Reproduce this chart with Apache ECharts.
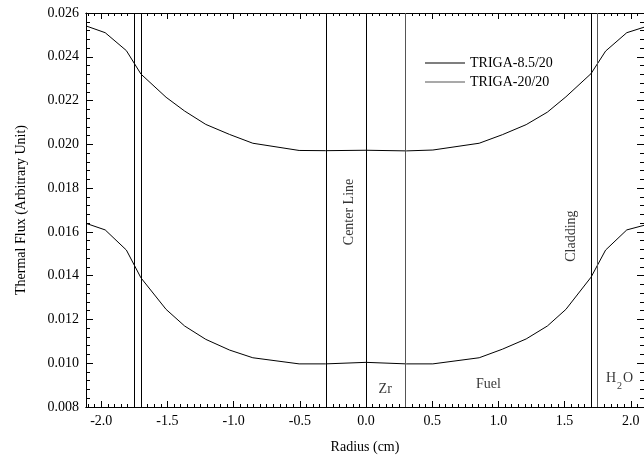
<!DOCTYPE html>
<html>
<head>
<meta charset="utf-8">
<script src="https://cdn.jsdelivr.net/npm/echarts@6/dist/echarts.min.js"></script>
<style>
  html, body { margin: 0; padding: 0; background: #fff; }
  #chart { width: 644px; height: 459px; }
</style>
</head>
<body>
<div id="chart"></div>
<script>
// radius positions of the computed points (cm)
const radius = [-2.115, -1.97, -1.81, -1.70, -1.51, -1.37, -1.21, -1.03, -0.855, -0.505, -0.305, 0,
  0.305, 0.505, 0.855, 1.03, 1.21, 1.37, 1.51, 1.70, 1.81, 1.97, 2.1];
const fluxLow = [0.02541, 0.02510, 0.02428, 0.02321, 0.02215, 0.02152, 0.02091, 0.02045, 0.02005, 0.01972, 0.01971, 0.01973,
  0.01970, 0.01974, 0.02005, 0.02044, 0.02090, 0.02147, 0.02217, 0.02323, 0.02426, 0.02510, 0.02535];
const fluxHigh = [0.01639, 0.01609, 0.01517, 0.01390, 0.01246, 0.01170, 0.01109, 0.01060, 0.01025, 0.00997, 0.00997, 0.01004,
  0.00997, 0.00997, 0.01025, 0.01064, 0.01111, 0.01170, 0.01246, 0.01393, 0.01517, 0.01609, 0.01630];
const seriesNames = ['TRIGA-8.5/20', 'TRIGA-20/20'];

// region boundaries (cm)
const boundaries = [-1.745, -1.695, -0.305, 0, 0.305, 1.695, 1.745];
const greyBoundaries = [0.305, 1.745];

// annotations: text, radius, flux, rotated
const notes = [
  ['Center Line', -0.125, 0.01691, true],
  ['Cladding', 1.548, 0.01581, true],
  ['Zr', 0.145, 0.00882, false],
  ['Fuel', 0.925, 0.00905, false],
  ['H{sub|2}O', 1.915, 0.00933, false]
];

const xMajorTicks = [-2.0, -1.5, -1.0, -0.5, 0.0, 0.5, 1.0, 1.5, 2.0];
const xMinorTicks = [];
for (let i = -42; i <= 42; i++) xMinorTicks.push(i * 0.05);

const font = 'Liberation Serif, Times New Roman, serif';
const X_MIN = -2.115, X_MAX = 2.1;
const GREY = '#555';

const chart = echarts.init(document.getElementById('chart'), null, { renderer: 'canvas' });

function xAxis(position, major, labels) {
  return {
    type: 'value',
    position: position,
    min: X_MIN,
    max: X_MAX,
    axisLine: { show: true, onZero: false, lineStyle: { color: '#000', width: 1 } },
    axisTick: {
      show: true,
      inside: true,
      length: major ? 6 : 3,
      customValues: major ? xMajorTicks : xMinorTicks,
      lineStyle: { color: '#000', width: 1 }
    },
    axisLabel: {
      show: labels,
      customValues: xMajorTicks,
      margin: 7,
      color: '#000',
      fontFamily: font,
      fontSize: 14,
      formatter: v => v.toFixed(1)
    },
    splitLine: { show: false }
  };
}

function yAxis(position, labels) {
  return {
    type: 'value',
    position: position,
    min: 0.008,
    max: 0.026,
    interval: 0.002,
    name: labels ? 'Thermal Flux (Arbitrary Unit)' : '',
    nameLocation: 'middle',
    nameGap: 58,
    nameTextStyle: { color: '#000', fontFamily: font, fontSize: 14 },
    axisLine: { show: true, onZero: false, lineStyle: { color: '#000', width: 1 } },
    axisTick: { show: true, inside: true, length: 7, lineStyle: { color: '#000', width: 1 } },
    minorTick: { show: true, splitNumber: 5, length: 4, lineStyle: { color: '#000', width: 1 } },
    axisLabel: {
      show: labels,
      margin: 7,
      color: '#000',
      fontFamily: font,
      fontSize: 14,
      formatter: v => v.toFixed(3)
    },
    splitLine: { show: false },
    minorSplitLine: { show: false }
  };
}

const bottomAxis = xAxis('bottom', true, true);
bottomAxis.name = 'Radius (cm)';
bottomAxis.nameLocation = 'middle';
bottomAxis.nameGap = 33;
bottomAxis.nameTextStyle = { color: '#000', fontFamily: font, fontSize: 14 };

const lineIcon = 'path://M0,0L40,0L40,1L0,1Z';

chart.setOption({
  animation: false,
  backgroundColor: '#fff',
  grid: { left: 86, top: 13, width: 560, height: 394, containLabel: false },
  legend: {
    orient: 'vertical',
    left: 425,
    top: 55,
    padding: 0,
    itemWidth: 40,
    itemHeight: 1,
    itemGap: 3,
    textStyle: { color: '#000', fontFamily: font, fontSize: 14, lineHeight: 16 },
    data: [
      { name: seriesNames[0], icon: lineIcon, itemStyle: { color: '#000' } },
      { name: seriesNames[1], icon: lineIcon, itemStyle: { color: GREY } }
    ]
  },
  xAxis: [
    bottomAxis,
    xAxis('bottom', false, false),
    xAxis('top', true, false),
    xAxis('top', false, false)
  ],
  yAxis: [yAxis('left', true), yAxis('right', false)],
  series: [
    {
      name: seriesNames[0],
      type: 'line',
      symbol: 'none',
      lineStyle: { color: '#000', width: 1 },
      itemStyle: { color: '#000' },
      data: radius.map((r, i) => [r, fluxLow[i]]),
      markLine: {
        silent: true,
        symbol: ['none', 'none'],
        label: { show: false },
        lineStyle: { color: '#000', width: 1, type: 'solid' },
        data: boundaries.map(b => ({
          xAxis: b,
          lineStyle: { color: greyBoundaries.includes(b) ? GREY : '#000', width: 1, type: 'solid' }
        }))
      }
    },
    {
      name: seriesNames[1],
      type: 'line',
      symbol: 'none',
      lineStyle: { color: '#000', width: 1 },
      itemStyle: { color: '#000' },
      data: radius.map((r, i) => [r, fluxHigh[i]])
    },
    {
      type: 'scatter',
      silent: true,
      symbolSize: 1,
      itemStyle: { color: 'rgba(0,0,0,0)' },
      data: notes.map(n => ({
        value: [n[1], n[2]],
        label: {
          show: true,
          position: 'inside',
          rotate: n[3] ? 90 : 0,
          formatter: n[0],
          color: '#000',
          fontFamily: font,
          fontSize: 14,
          rich: {
            sub: { fontSize: 10, fontFamily: font, color: '#000', lineHeight: 26, verticalAlign: 'bottom', padding: [0, 1, 0, 1] }
          }
        }
      }))
    }
  ]
});
</script>
</body>
</html>
